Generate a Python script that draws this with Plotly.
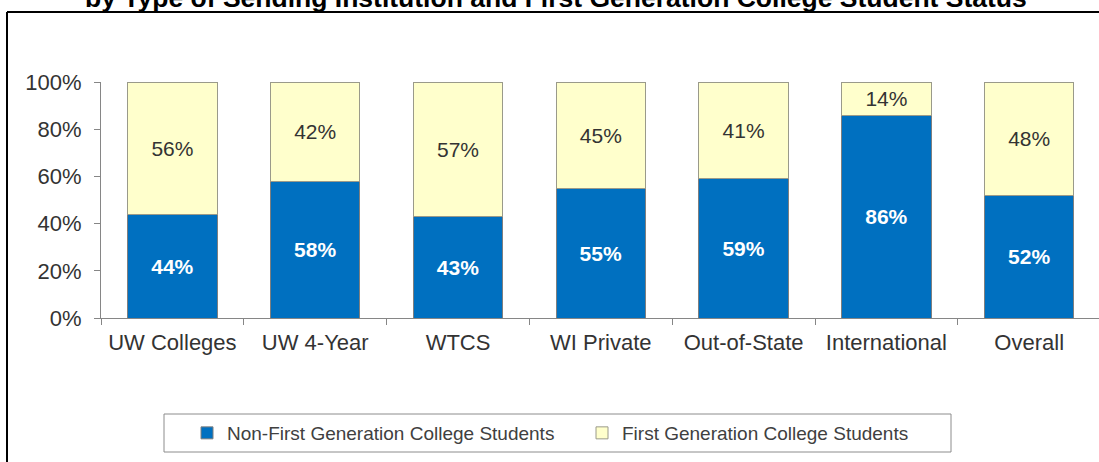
import plotly.graph_objects as go

categories = ["UW Colleges", "UW 4-Year", "WTCS", "WI Private", "Out-of-State", "International", "Overall"]
non_first_gen = [44, 58, 43, 55, 59, 86, 52]
first_gen = [56, 42, 57, 45, 41, 14, 48]
series_names = ["Non-First Generation College Students", "First Generation College Students"]
title_text = "by Type of Sending Institution and First Generation College Student Status"

FONT = "Liberation Sans, Arial, sans-serif"

fig = go.Figure()
fig.add_trace(go.Bar(
    x=categories, y=[v / 100 for v in non_first_gen], name=series_names[0],
    marker=dict(color="#0070C0", line=dict(color="#7f7f7f", width=1)),
    text=[f"{v}%" for v in non_first_gen], textposition="inside", insidetextanchor="middle",
    textfont=dict(family=FONT, size=21, color="white", weight="bold"),
    hoverinfo="skip",
))
fig.add_trace(go.Bar(
    x=categories, y=[v / 100 for v in first_gen], name=series_names[1],
    marker=dict(color="#FFFFCC", line=dict(color="#9a9a8a", width=1)),
    text=[f"{v}%" for v in first_gen], textposition="inside", insidetextanchor="middle",
    textfont=dict(family=FONT, size=21, color="#333333"),
    hoverinfo="skip",
))

L, R, T, B = 101, 1099, 82, 318
W, H = R - L, B - T

def px(x):
    return (x - L) / W

def py(y):
    return (B - y) / H

fig.update_layout(
    width=1099, height=462,
    margin=dict(l=L, r=1099 - R, t=T, b=462 - B, pad=0),
    paper_bgcolor="white", plot_bgcolor="white",
    barmode="stack", bargap=0.373,
    showlegend=True,
    font=dict(family=FONT, color="#333333"),
    xaxis=dict(
        range=[-0.5, -0.5 + W / 142.8], showline=True, linecolor="#868686", linewidth=1,
        ticks="outside", tickson="boundaries", ticklen=6, tickcolor="#868686",
        ticklabelstandoff=5,
        tickfont=dict(family=FONT, size=22, color="#333333"), showgrid=False, zeroline=False,
    ),
    yaxis=dict(
        range=[0, 1], tickformat=".0%", dtick=0.2, showline=True, linecolor="#868686", linewidth=1,
        ticks="outside", ticklen=6, tickcolor="#868686", ticklabelstandoff=8,
        tickfont=dict(family=FONT, size=22, color="#333333"), showgrid=False, zeroline=False,
    ),
    legend=dict(
        orientation="h", x=px(187), xanchor="left", y=py(433), yanchor="middle",
        traceorder="normal", font=dict(family=FONT, size=19, color="#404040"),
        entrywidth=350, bgcolor="rgba(0,0,0,0)", borderwidth=0,
    ),
    shapes=[
        dict(type="rect", xref="paper", yref="paper", x0=px(164), x1=px(951), y0=py(452), y1=py(414),
             line=dict(color="#8c8c8c", width=1), fillcolor="rgba(0,0,0,0)", layer="below"),
        dict(type="line", xref="paper", yref="paper", x0=px(7), x1=px(7), y0=py(12), y1=py(470),
             line=dict(color="black", width=2)),
        dict(type="line", xref="paper", yref="paper", x0=px(7), x1=px(1110), y0=py(12), y1=py(12),
             line=dict(color="black", width=2)),
    ],
    annotations=[
        dict(text=title_text, xref="paper", yref="paper", x=px(556), y=py(-2), xanchor="center",
             yanchor="middle", showarrow=False,
             font=dict(family=FONT, size=26.5, color="black", weight="bold")),
    ],
)

fig.write_html("out.html", config={"displayModeBar": False},
               post_script="document.body.style.margin='0px';")
